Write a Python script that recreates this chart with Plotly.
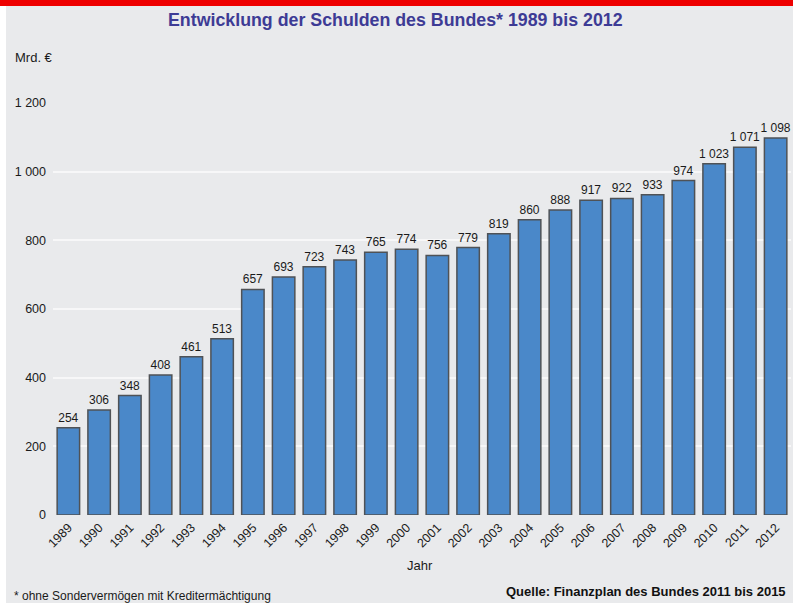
import plotly.graph_objects as go

years = [str(y) for y in range(1989, 2013)]
debt = [254, 306, 348, 408, 461, 513, 657, 693, 723, 743, 765, 774, 756, 779,
        819, 860, 888, 917, 922, 933, 974, 1023, 1071, 1098]
y_ticks = [0, 200, 400, 600, 800, 1000, 1200]

W, H = 795, 603
ML, MR, MT, MB = 53, 4, 103, 88
PW, PH = W - ML - MR, H - MT - MB

def px_x(px):
    return (px - ML) / PW

def px_y(py):
    return (H - MB - py) / PH

FONT = "Liberation Sans, Arial, sans-serif"

fig = go.Figure(go.Bar(
    x=years, y=debt,
    marker=dict(color="#4A88C9", line=dict(color="#4F5256", width=1.5)),
    texttemplate="%{y:,.0f}", textposition="outside",
    textfont=dict(family=FONT, size=12, color="#1a1a1a"),
    constraintext="none",
    cliponaxis=False,
))

fig.update_layout(
    width=W, height=H,
    margin=dict(l=ML, r=MR, t=MT, b=MB, autoexpand=False),
    paper_bgcolor="white", plot_bgcolor="rgba(0,0,0,0)",
    separators=", ",
    bargap=0.27,
    showlegend=False,
    font=dict(family=FONT, color="#1a1a1a"),
    xaxis=dict(type="category", showgrid=False, zeroline=False, ticks="",
               tickangle=-45, tickfont=dict(size=12.5, color="#1a1a1a"),
               ticklabelstandoff=2, showline=False),
    yaxis=dict(range=[0, 1200], tickvals=y_ticks, separatethousands=True,
               tickformat=",d", showgrid=True, gridcolor="#F7F7F8", gridwidth=1.5,
               zeroline=False, ticks="", tickfont=dict(size=12.5, color="#1a1a1a"),
               ticklabelstandoff=6, showline=False),
    shapes=[
        dict(type="rect", xref="paper", yref="paper", layer="below",
             x0=px_x(6), x1=px_x(793), y0=px_y(H), y1=px_y(6),
             fillcolor="#E9EAEC", line=dict(width=0)),
        dict(type="rect", xref="paper", yref="paper", layer="above",
             x0=px_x(0), x1=px_x(793), y0=px_y(6), y1=px_y(0),
             fillcolor="#EE0000", line=dict(width=0)),
    ],
    annotations=[
        dict(text="<b>Entwicklung der Schulden des Bundes* 1989 bis 2012</b>",
             xref="paper", yref="paper", x=px_x(395), y=px_y(20),
             xanchor="center", yanchor="middle", showarrow=False,
             font=dict(size=17.8, color="#3D3B95", family=FONT)),
        dict(text="Mrd. €", xref="paper", yref="paper", x=px_x(13), y=px_y(57),
             xanchor="left", yanchor="middle", showarrow=False,
             font=dict(size=13, color="#1a1a1a")),
        dict(text="Jahr", xref="paper", yref="paper", x=px_x(420), y=px_y(565),
             xanchor="center", yanchor="middle", showarrow=False,
             font=dict(size=13, color="#1a1a1a")),
        dict(text="* ohne Sondervermögen mit Kreditermächtigung", xref="paper", yref="paper",
             x=px_x(12), y=px_y(596), xanchor="left", yanchor="middle", showarrow=False,
             font=dict(size=12, color="#1a1a1a")),
        dict(text="<b>Quelle: Finanzplan des Bundes 2011 bis 2015</b>", xref="paper", yref="paper",
             x=px_x(788), y=px_y(591), xanchor="right", yanchor="middle", showarrow=False,
             font=dict(size=13, color="#111111")),
    ],
)

fig.write_html(
    "out.html",
    config={"displayModeBar": False},
    post_script="document.body.style.margin='0';document.body.style.overflow='hidden';",
)
